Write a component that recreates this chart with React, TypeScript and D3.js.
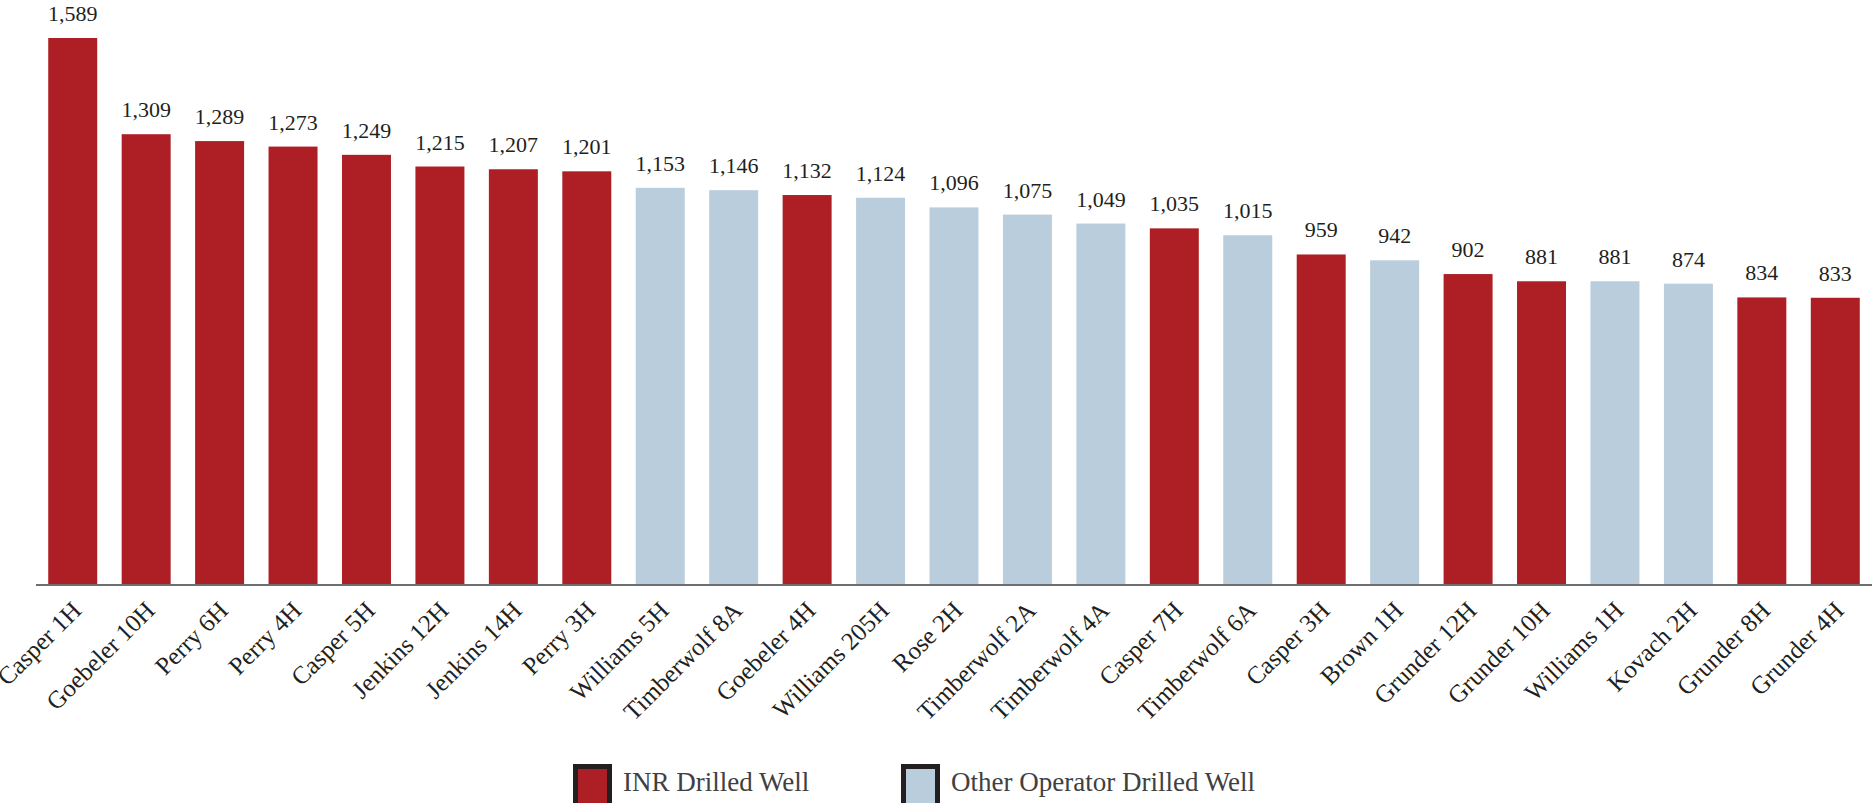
import React from "react";
import * as d3 from "d3";

const wells = [
  "Casper 1H", "Goebeler 10H", "Perry 6H", "Perry 4H", "Casper 5H", "Jenkins 12H",
  "Jenkins 14H", "Perry 3H", "Williams 5H", "Timberwolf 8A", "Goebeler 4H",
  "Williams 205H", "Rose 2H", "Timberwolf 2A", "Timberwolf 4A", "Casper 7H",
  "Timberwolf 6A", "Casper 3H", "Brown 1H", "Grunder 12H", "Grunder 10H",
  "Williams 1H", "Kovach 2H", "Grunder 8H", "Grunder 4H",
];
const values = [
  1589, 1309, 1289, 1273, 1249, 1215, 1207, 1201, 1153, 1146, 1132, 1124, 1096,
  1075, 1049, 1035, 1015, 959, 942, 902, 881, 881, 874, 834, 833,
];
const operators = [
  "INR", "INR", "INR", "INR", "INR", "INR", "INR", "INR", "Other", "Other", "INR",
  "Other", "Other", "Other", "Other", "INR", "Other", "INR", "Other", "INR", "INR",
  "Other", "Other", "INR", "INR",
];
const legendLabels = ["INR Drilled Well", "Other Operator Drilled Well"];
const legendKeys = ["INR", "Other"];

const W = 1872;
const H = 803;
const baseY = 584;
const topY = 38;
const FONT = "'Liberation Serif', 'Times New Roman', serif";

export default function App() {
  const x = d3.scaleBand<string>().domain(wells).range([36, W]).paddingInner(0.333).paddingOuter(0.1665);
  const y = d3.scaleLinear().domain([0, d3.max(values) as number]).range([baseY, topY]);
  const color = d3.scaleOrdinal<string, string>().domain(legendKeys).range(["#AD1F24", "#B9CDDC"]);
  const fmt = d3.format(",");
  const legendX = [573, 901];

  return (
    <svg width={W} height={H} style={{ position: "absolute", left: 0, top: 0, background: "#fff" }}>
      {wells.map((w, i) => {
        const bx = x(w) as number;
        const bw = x.bandwidth();
        const cx = bx + bw / 2;
        return (
          <g key={w}>
            <rect x={bx} y={y(values[i])} width={bw} height={baseY - y(values[i])} fill={color(operators[i])} />
            <text x={cx} y={y(values[i]) - 17} textAnchor="middle" fontFamily={FONT} fontSize={22} fill="#231F20">
              {fmt(values[i])}
            </text>
            <text
              transform={`translate(${cx + 10},${baseY + 28}) rotate(-45)`}
              textAnchor="end"
              fontFamily={FONT}
              fontSize={25}
              fill="#231F20"
            >
              {w}
            </text>
          </g>
        );
      })}
      <line x1={36} x2={W} y1={baseY + 1} y2={baseY + 1} stroke="#6D6E71" strokeWidth={2} />
      {legendKeys.map((k, i) => (
        <g key={k}>
          <rect x={legendX[i] + 2.5} y={766.5} width={34} height={40} fill={color(k)} stroke="#231F20" strokeWidth={5} />
          <text x={legendX[i] + 50} y={791} fontFamily={FONT} fontSize={27} fill="#404041">
            {legendLabels[i]}
          </text>
        </g>
      ))}
    </svg>
  );
}
